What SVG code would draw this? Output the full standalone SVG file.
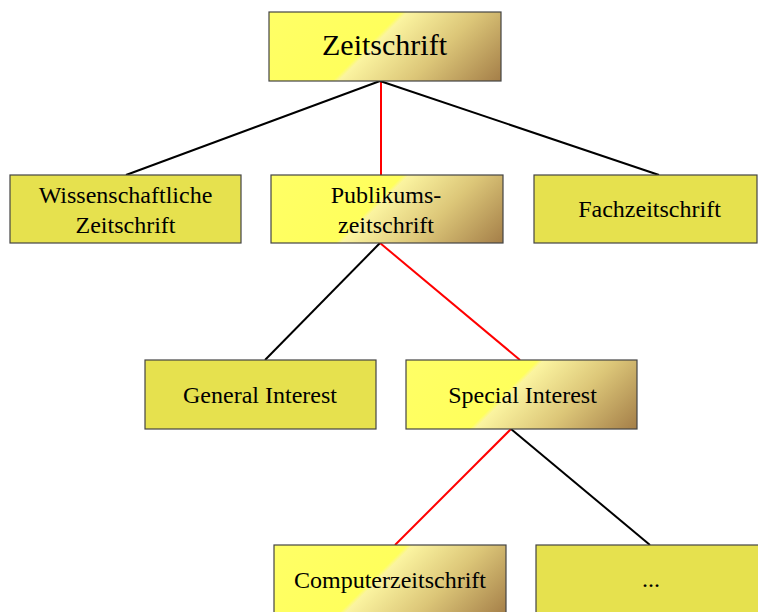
<svg xmlns="http://www.w3.org/2000/svg" width="758" height="612" viewBox="0 0 758 612">
<defs>
<linearGradient id="hl" gradientUnits="userSpaceOnUse" x1="0" y1="0" x2="150" y2="150">
<stop offset="0" stop-color="#ffff66"/>
<stop offset="0.44" stop-color="#ffff5c"/>
<stop offset="0.46" stop-color="#fbf4a0"/>
<stop offset="0.7" stop-color="#dcc678"/>
<stop offset="1" stop-color="#a47e48"/>
</linearGradient>
<linearGradient id="g1" href="#hl" x1="269" y1="12" x2="419.5" y2="162.5"/>
<linearGradient id="g2" href="#hl" x1="271" y1="175" x2="421" y2="325"/>
<linearGradient id="g3" href="#hl" x1="406" y1="360" x2="556" y2="510"/>
<linearGradient id="g4" href="#hl" x1="274" y1="545" x2="425" y2="696"/>
<pattern id="hatch" width="4" height="4" patternUnits="userSpaceOnUse" patternTransform="rotate(45)">
<line x1="0" y1="0" x2="0" y2="4" stroke="#ffffff" stroke-opacity="0.15" stroke-width="1"/>
</pattern>
</defs>
<style>
.plain{fill:#e6e14e;stroke:#444;stroke-width:1.2}
.hl{stroke:#444;stroke-width:1.2}
.t{font-family:"Liberation Serif","Times New Roman",serif;font-size:24px;fill:#000;text-anchor:middle}
.big{font-size:30px}
.blk{stroke:#000;stroke-width:2;fill:none}
.red{stroke:#ff0000;stroke-width:2;fill:none}
</style>
<g id="connectors">
<line class="blk" x1="380" y1="81" x2="126" y2="175"/>
<line class="red" x1="381" y1="81" x2="381" y2="175"/>
<line class="blk" x1="380" y1="81" x2="659" y2="175"/>
<line class="blk" x1="380" y1="243" x2="265" y2="360"/>
<line class="red" x1="380" y1="243" x2="520" y2="360"/>
<line class="red" x1="511" y1="429" x2="395" y2="545"/>
<line class="blk" x1="511" y1="429" x2="650" y2="545"/>
</g>
<g id="n-zeitschrift">
<rect class="hl" fill="url(#g1)" x="269" y="12" width="232" height="69"/>
<text class="t big" x="384.5" y="55">Zeitschrift</text>
</g>
<g id="n-wissenschaftliche">
<rect class="plain" x="10" y="175" width="231" height="68"/>
<text class="t" x="125.5" y="203">Wissenschaftliche</text>
<text class="t" x="125.5" y="233">Zeitschrift</text>
</g>
<g id="n-publikums">
<rect class="hl" fill="url(#g2)" x="271" y="175" width="232" height="68"/>
<text class="t" x="386" y="203">Publikums-</text>
<text class="t" x="386" y="233">zeitschrift</text>
</g>
<g id="n-fach">
<rect class="plain" x="534" y="175" width="223" height="68"/>
<text class="t" x="649.5" y="217">Fachzeitschrift</text>
</g>
<g id="n-general">
<rect class="plain" x="145" y="360" width="231" height="69"/>
<text class="t" x="260" y="403">General Interest</text>
</g>
<g id="n-special">
<rect class="hl" fill="url(#g3)" x="406" y="360" width="231" height="69"/>
<text class="t" x="522.5" y="403">Special Interest</text>
</g>
<g id="n-computer">
<rect class="hl" fill="url(#g4)" x="274" y="545" width="232" height="70"/>
<text class="t" x="390" y="588">Computerzeitschrift</text>
</g>
<g id="n-dots">
<rect class="plain" x="536" y="545" width="225" height="70"/>
<text class="t" x="651" y="587">...</text>
</g>
</svg>
